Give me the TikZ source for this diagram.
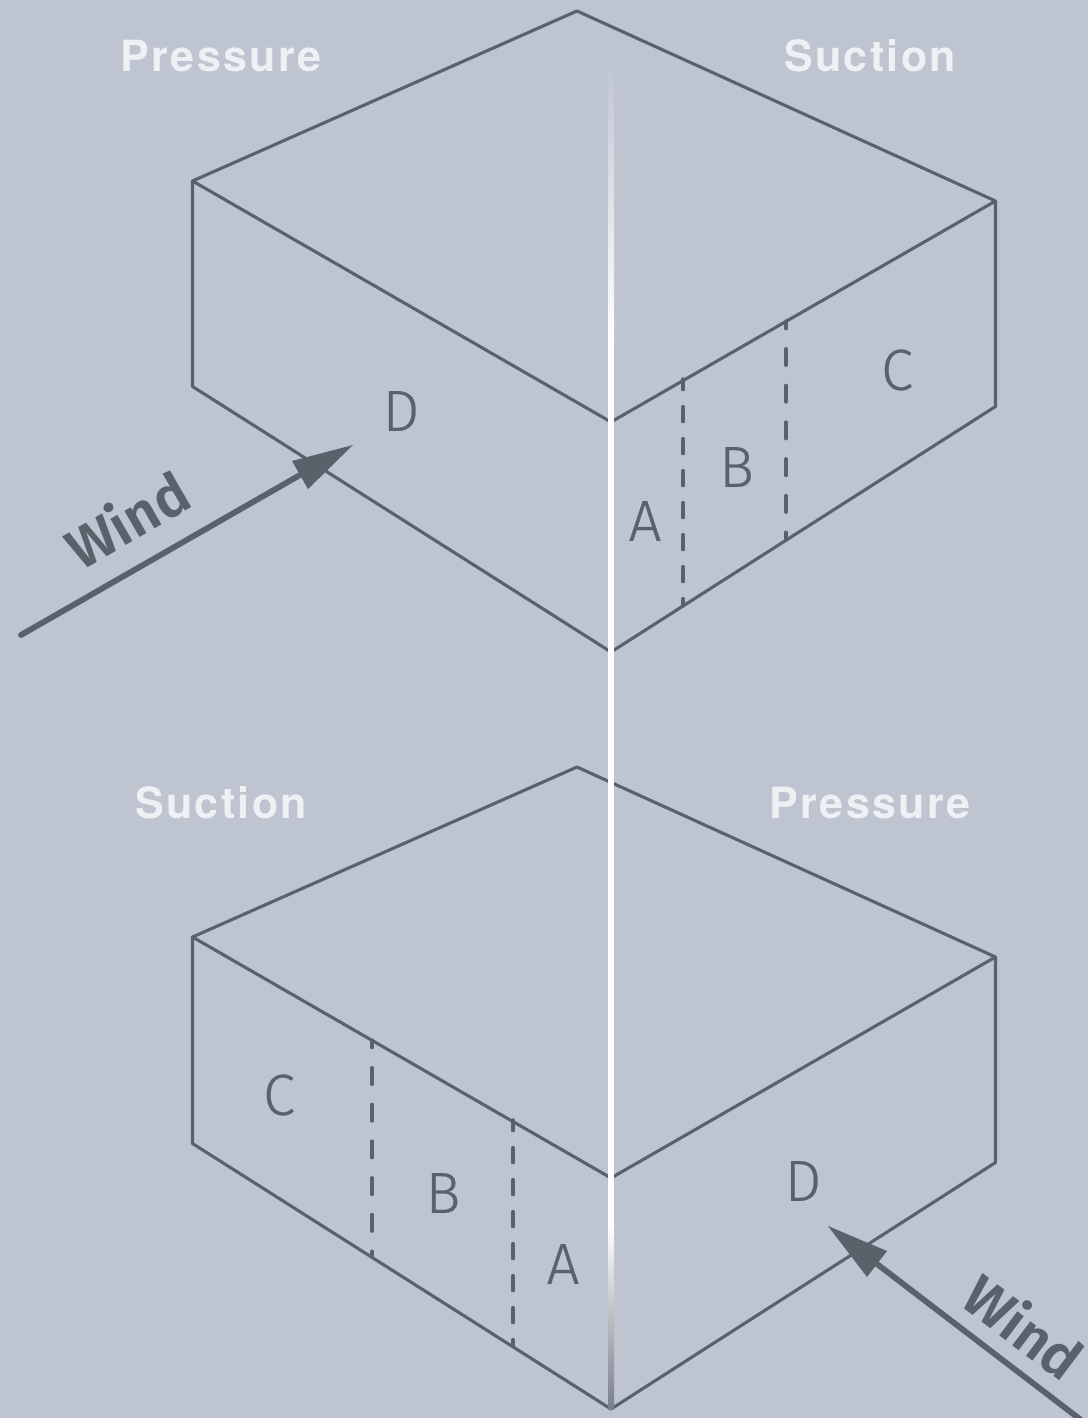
\documentclass[tikz,border=0pt]{standalone}
\usepackage{fontspec}
\newfontfamily\lightf[UprightFont=* Light,UprightFeatures={FakeBold=0.4}]{Fira Sans}
\newfontfamily\windf[UprightFont=* SemiBold]{Fira Sans}
\newfontfamily\headf[LetterSpace=5.5]{TeX Gyre Heros}
\definecolor{bgc}{HTML}{BEC4D0}
\definecolor{ink}{HTML}{5B616B}
\definecolor{headc}{HTML}{EEF0F4}
\tikzset{
 edgeline/.style={draw=ink,line width=1.55pt,line join=round},
 dashshort/.style={draw=ink,line width=1.7pt,line cap=round,dash pattern=on 7.5pt off 8.5pt,dash phase=2.2pt},
 dashlong/.style={draw=ink,line width=1.7pt,line cap=round,dash pattern=on 8.3pt off 10.05pt,dash phase=4.5pt},
 shaft/.style={draw=ink,line width=2.9pt,line cap=round},
 headtip/.style={fill=ink},
 letterl/.style={text=ink,font=\lightf\fontsize{29}{30}\selectfont,inner sep=0pt},
 headl/.style={text=headc,font=\headf\bfseries\fontsize{21.5}{24}\selectfont,inner sep=0pt},
 windl/.style={text=ink,font=\windf\fontsize{28.5}{31}\selectfont,inner sep=0pt},
}
\begin{document}
\begin{tikzpicture}[x=0.5pt,y=-0.5pt]
\useasboundingbox (0,0) rectangle (1088,1418);
\clip (0,0) rectangle (1088,1418);
\fill[bgc] (0,0) rectangle (1088,1418);
% top box
\coordinate (t1) at (577,11);
\coordinate (t2) at (995.5,201);
\coordinate (t3) at (611,422);
\coordinate (t4) at (192.5,181);
\coordinate (t5) at (192.5,386.5);
\coordinate (t6) at (611,652);
\coordinate (t7) at (995.5,406.5);
\draw[edgeline] (t1) -- (t2) -- (t3) -- (t4) -- cycle;
\draw[edgeline] (t4) -- (t5) -- (t6) -- (t7) -- (t2);
\coordinate (ta1) at (683,379);
\coordinate (ta2) at (683,606);
\coordinate (tb1) at (786,321);
\coordinate (tb2) at (786,540);
\draw[dashshort] (ta1) -- (ta2);
\draw[dashlong] (tb1) -- (tb2);
% bottom box
\coordinate (b1) at (577,767);
\coordinate (b2) at (995.5,957);
\coordinate (b3) at (611,1178);
\coordinate (b4) at (192.5,937);
\coordinate (b5) at (192.5,1143.5);
\coordinate (b6) at (611,1409);
\coordinate (b7) at (995.5,1162.5);
\draw[edgeline] (b1) -- (b2) -- (b3) -- (b4) -- cycle;
\draw[edgeline] (b4) -- (b5) -- (b6) -- (b7) -- (b2);
\coordinate (ba1) at (372,1040);
\coordinate (ba2) at (372,1256);
\coordinate (bb1) at (513,1120);
\coordinate (bb2) at (513,1346);
\draw[dashlong] (ba1) -- (ba2);
\draw[dashshort] (bb1) -- (bb2);
% central light line
\shade[top color=bgc,bottom color=white] (608,60) rectangle (614,340);
\fill[white] (608,339) rectangle (614,1226);
\shade[top color=white,bottom color=ink!70!bgc] (608,1225) rectangle (614,1409);
% arrows
\coordinate (w1s) at (21,635);
\coordinate (w1b) at (300,475);
\coordinate (w1t) at (353,445);
\coordinate (w1c) at (292,461);
\coordinate (w1d) at (308,489);
\draw[shaft] (w1s) -- (w1b);
\fill[headtip] (w1t) -- (w1c) -- (w1d) -- cycle;
\coordinate (w2s) at (1085,1423);
\coordinate (w2b) at (877,1264);
\coordinate (w2t) at (828,1226);
\coordinate (w2c) at (887,1251);
\coordinate (w2d) at (867,1277);
\draw[shaft] (w2s) -- (w2b);
\fill[headtip] (w2t) -- (w2c) -- (w2d) -- cycle;
% labels
\node[headl] (hp1) at (221,56) {Pressure};
\node[headl] (hs1) at (870,56) {Suction};
\node[headl] (hs2) at (221,803) {Suction};
\node[headl] (hp2) at (870,803) {Pressure};
\node[letterl] (ld1) at (401,411) {D};
\node[letterl] (la1) at (645,521) {A};
\node[letterl] (lb1) at (736.5,467) {B};
\node[letterl] (lc1) at (897,370) {C};
\node[letterl] (lc2) at (279,1095) {C};
\node[letterl] (lb2) at (443,1193) {B};
\node[letterl] (la2) at (563,1264) {A};
\node[letterl] (ld2) at (803,1181) {D};
\node[windl,rotate=30] (w1) at (127,519) {Wind};
\node[windl,rotate=-37] (w2) at (1024,1326) {Wind};
\end{tikzpicture}
\end{document}
